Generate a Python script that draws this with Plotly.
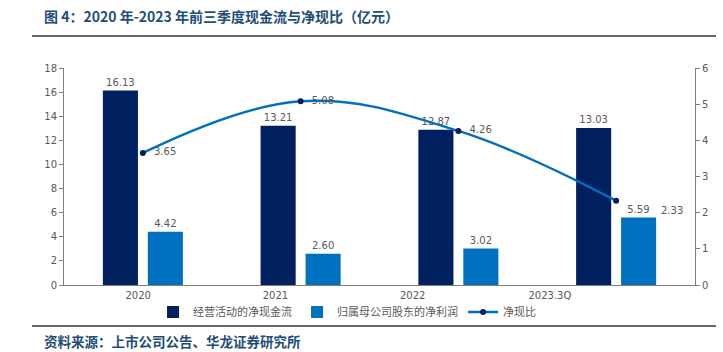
import plotly.graph_objects as go

categories = ["2020", "2021", "2022", "2023.3Q"]
cash_flow = [16.13, 13.21, 12.87, 13.03]
net_profit = [4.42, 2.60, 3.02, 5.59]
net_profit_labels = ["4.42", "2.60", "3.02", "2.33"]
ratio = [3.65, 5.08, 4.26, 2.33]
ratio_labels = ["3.65", "5.08", "4.26", "5.59"]
left_ticks = [0, 2, 4, 6, 8, 10, 12, 14, 16, 18]
right_ticks = [0, 1, 2, 3, 4, 5, 6]

W, H = 723, 352
NAVY = "#002060"
BLUE = "#0070C0"
GRAY = "#595959"
FONT = "Noto Sans CJK SC"
NUMFONT = "DejaVu Sans"

xs = list(range(len(categories)))
# category labels drift left in the original
label_pos = [i - 0.03 - 0.13 * i for i in xs]

fig = go.Figure()
fig.add_trace(go.Bar(
    x=xs, y=cash_flow, name="经营活动的净现金流", marker_color=NAVY,
    marker_line_width=0,
    text=[f"{v:.2f}" for v in cash_flow], textposition="outside",
    textfont=dict(size=10, color=GRAY, family=NUMFONT), cliponaxis=False,
))
fig.add_trace(go.Bar(
    x=xs, y=net_profit, name="归属母公司股东的净利润", marker_color=BLUE,
    marker_line_width=0,
    text=net_profit_labels[:-1] + [""], textposition="outside",
    textfont=dict(size=10, color=GRAY, family=NUMFONT), cliponaxis=False,
))
fig.add_trace(go.Scatter(
    x=xs, y=ratio, name="净现比", yaxis="y2", mode="lines+markers+text",
    line=dict(color=BLUE, width=2.5, shape="spline", smoothing=1.1),
    marker=dict(color=NAVY, size=6),
    text=["  " + t for t in ratio_labels],
    textposition=["middle right", "middle right", "middle right", "bottom right"],
    textfont=dict(size=10, color=GRAY, family=NUMFONT), cliponaxis=False,
))

# label of last net-profit bar sits to the right of its top
fig.add_annotation(x=xs[-1], y=net_profit[-1], text=net_profit_labels[-1],
                   xref="x", yref="y", showarrow=False, xshift=56, yshift=7,
                   font=dict(size=10, color=GRAY, family=NUMFONT))

x0, x1 = 64 / W, 695 / W
y0, y1 = (H - 285) / H, (H - 68) / H

fig.update_layout(
    width=W, height=H, margin=dict(l=0, r=0, t=0, b=0, autoexpand=False),
    paper_bgcolor="white", plot_bgcolor="white",
    barmode="group", bargap=0.43, bargroupgap=0.22,
    font=dict(family=FONT, color=GRAY),
    xaxis=dict(domain=[x0, x1], range=[-0.5, 3.5], tickvals=label_pos,
               ticktext=categories, showline=True, linecolor="#7f7f7f",
               linewidth=1, showgrid=False, zeroline=False, ticks="",
               automargin=False, ticklabelstandoff=1,
               tickfont=dict(size=10, color=GRAY, family=NUMFONT)),
    yaxis=dict(domain=[y0, y1], range=[0, 18], tickvals=left_ticks,
               showline=True, linecolor="#7f7f7f", linewidth=1, showgrid=False,
               zeroline=False, ticks="outside", ticklen=4, tickcolor="#7f7f7f",
               automargin=False,
               tickfont=dict(size=10, color=GRAY, family=NUMFONT)),
    yaxis2=dict(overlaying="y", side="right", anchor="x", range=[0, 6],
                tickvals=right_ticks, showline=True, linecolor="#7f7f7f",
                linewidth=1, showgrid=False, zeroline=False, ticks="outside",
                ticklen=4, tickcolor="#7f7f7f", automargin=False,
                tickfont=dict(size=10, color=GRAY, family=NUMFONT)),
    legend=dict(orientation="h", x=0.48, xanchor="center", y=(H - 312) / H,
                yanchor="middle", font=dict(size=11, color=GRAY, family=FONT),
                itemwidth=30, bgcolor="rgba(0,0,0,0)", tracegroupgap=0),
    showlegend=True,
)

fig.add_annotation(text="<b>图 4：2020 年-2023 年前三季度现金流与净现比（亿元）</b>",
                   xref="paper", yref="paper", x=42 / W, y=(H - 16) / H,
                   xanchor="left", yanchor="middle", showarrow=False,
                   font=dict(size=14, color="#1F4E79", family=FONT))
fig.add_annotation(text="<b>资料来源：上市公司公告、华龙证券研究所</b>",
                   xref="paper", yref="paper", x=42 / W, y=(H - 341) / H,
                   xanchor="left", yanchor="middle", showarrow=False,
                   font=dict(size=13.5, color="#1F4E79", family=FONT))
fig.add_shape(type="line", xref="paper", yref="paper", x0=32 / W, x1=716 / W,
              y0=(H - 36) / H, y1=(H - 36) / H, line=dict(color="#333333", width=1.5))
fig.add_shape(type="line", xref="paper", yref="paper", x0=32 / W, x1=716 / W,
              y0=(H - 326) / H, y1=(H - 326) / H, line=dict(color="#333333", width=1.5))

fig.write_html("out.html")
